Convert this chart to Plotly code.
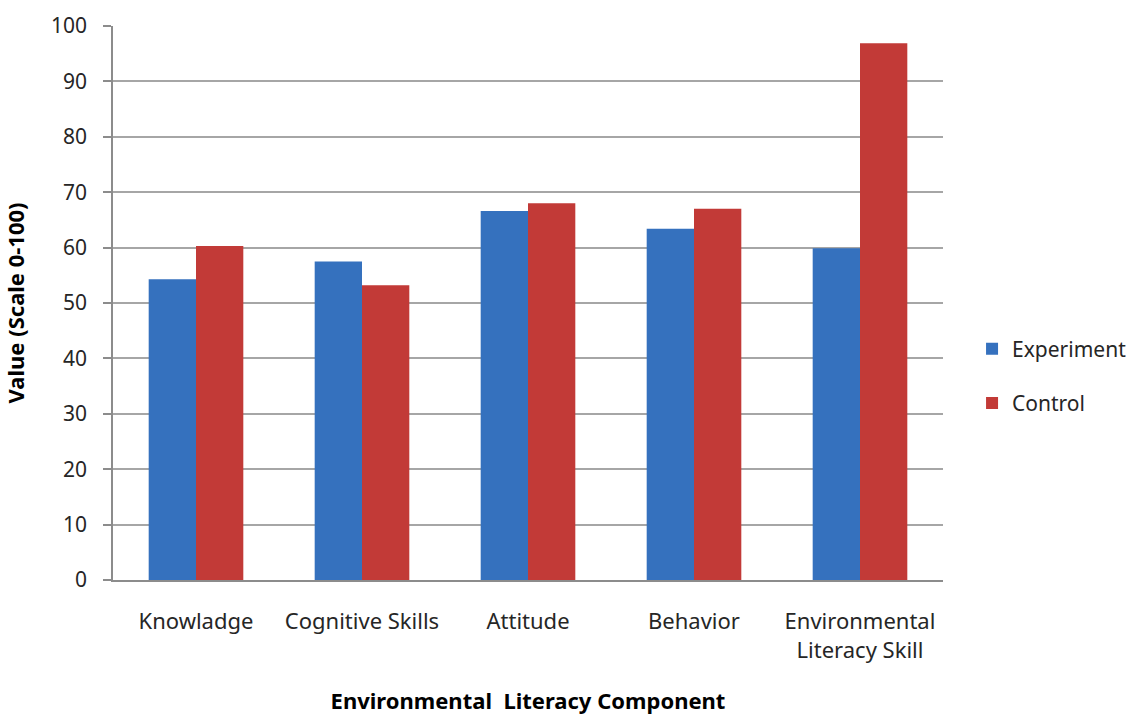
import plotly.graph_objects as go

categories = ["Knowladge", "Cognitive Skills", "Attitude", "Behavior", "Environmental<br>Literacy Skill"]
experiment = [54.3, 57.5, 66.6, 63.4, 59.9]
control = [60.3, 53.2, 68.0, 67.0, 96.9]
y_ticks = list(range(0, 101, 10))

FONT = "'Noto Sans', 'Open Sans', sans-serif"

fig = go.Figure()
fig.add_trace(go.Bar(x=categories, y=experiment, name="Experiment",
                     marker=dict(color="#3571BE", line=dict(width=0)),
                     legendgroup="a"))
fig.add_trace(go.Bar(x=categories, y=control, name="Control",
                     marker=dict(color="#C23A37", line=dict(width=0)),
                     legendgroup="b"))

fig.update_layout(
    width=1137, height=715,
    margin=dict(l=113, r=194, t=26, b=135, autoexpand=False),
    paper_bgcolor="white", plot_bgcolor="white",
    barmode="group", bargap=0.43, bargroupgap=0,
    font=dict(family=FONT, size=21, color="#262626"),
    legend=dict(x=1.035, xanchor="left", y=0.368, yanchor="middle",
                font=dict(size=21, color="#262626"),
                traceorder="grouped", tracegroupgap=24,
                bgcolor="rgba(0,0,0,0)", itemsizing="constant"),
    xaxis=dict(
        automargin=False,
        showgrid=False, showline=True, linecolor="#8C8C8C", linewidth=1.5,
        ticks="", tickfont=dict(size=22, color="#262626"),
        ticklabelstandoff=21,
        title=dict(text="<b>Environmental  Literacy Component</b>",
                   font=dict(size=22, color="#000000"), standoff=32),
    ),
    yaxis=dict(
        automargin=False,
        range=[0, 100], tickvals=y_ticks,
        showgrid=True, gridcolor="#A6A6A6", gridwidth=1.5,
        showline=True, linecolor="#8C8C8C", linewidth=1.5,
        ticks="outside", ticklen=8, tickcolor="#8C8C8C", tickwidth=1.5,
        tickfont=dict(size=21, color="#262626"), ticklabelstandoff=12,
        zeroline=False,
        title=dict(text="<b>Value (Scale 0-100)</b>",
                   font=dict(size=22, color="#000000"), standoff=20),
    ),
)

fig.write_html("out.html")
